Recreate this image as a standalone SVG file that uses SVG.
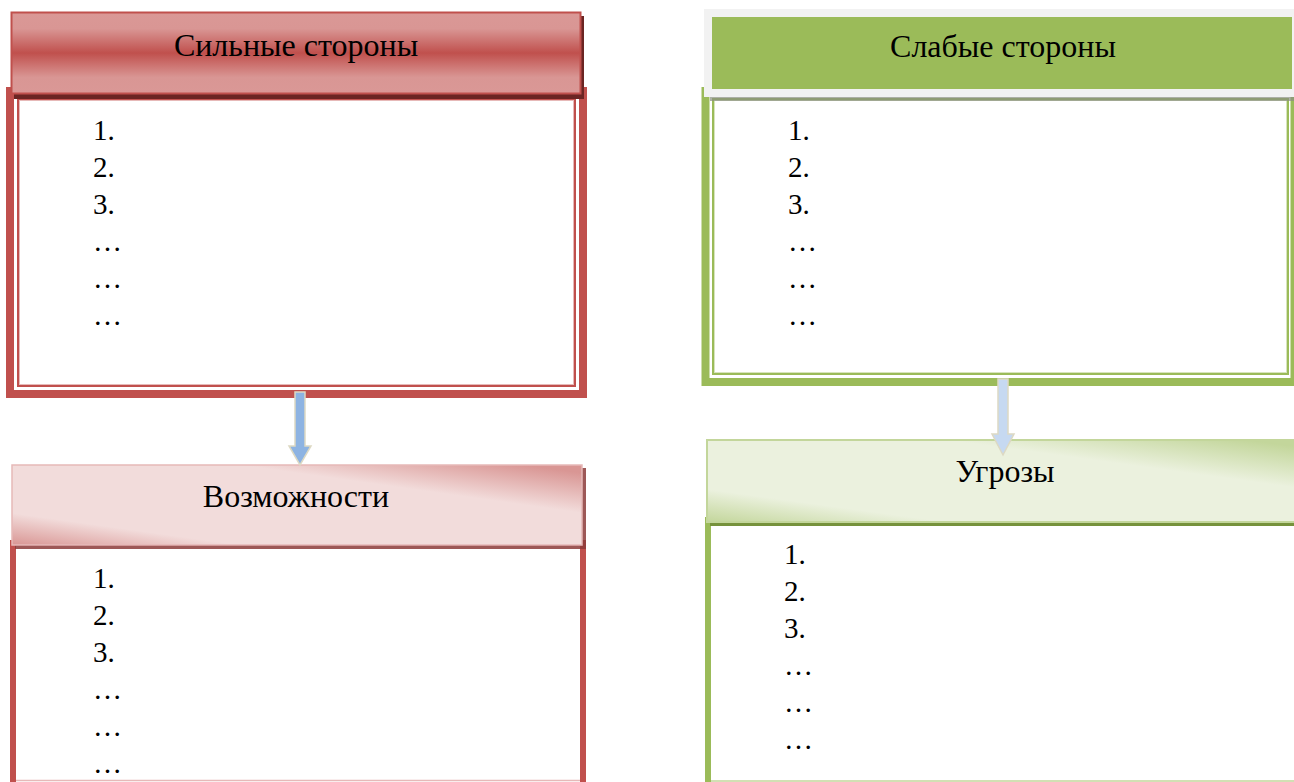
<svg xmlns="http://www.w3.org/2000/svg" width="1294" height="782" viewBox="0 0 1294 782">
<defs>
<style>
.t{font-family:"Liberation Serif","Times New Roman",serif;font-size:29px;fill:#000}
.h{text-anchor:middle;font-size:32px}
.redThick{fill:#fff;stroke:#C0504D;stroke-width:8}
.redThin{fill:none;stroke:#C0504D;stroke-width:2}
.redLight{fill:none;stroke:#E6B9B8;stroke-width:1}
.grnThick{fill:#fff;stroke:#9BBB59;stroke-width:8}
.grnThin{fill:none;stroke:#9BBB59;stroke-width:2}
.grnLight{fill:none;stroke:#D7E4BD;stroke-width:1}
.arrow{stroke:#DDD9C3;stroke-width:1.5}
</style>
<linearGradient id="gRedV" x1="0" y1="0" x2="0" y2="1">
<stop offset="0" stop-color="#DA9896"/>
<stop offset="0.2" stop-color="#D99694"/>
<stop offset="0.5" stop-color="#C0504D"/>
<stop offset="0.8" stop-color="#D99694"/>
<stop offset="1" stop-color="#DA9896"/>
</linearGradient>
<linearGradient id="gRedD" x1="0" y1="1" x2="1" y2="0">
<stop offset="0" stop-color="#D99694"/>
<stop offset="0.2" stop-color="#F2DCDB"/>
<stop offset="0.7" stop-color="#F2DCDB"/>
<stop offset="0.95" stop-color="#D99694"/>
<stop offset="1" stop-color="#D99694"/>
</linearGradient>
<linearGradient id="gGrnD" x1="0" y1="1" x2="1" y2="0">
<stop offset="0" stop-color="#C3D69B"/>
<stop offset="0.2" stop-color="#EBF1DE"/>
<stop offset="0.7" stop-color="#EBF1DE"/>
<stop offset="0.95" stop-color="#C3D69B"/>
<stop offset="1" stop-color="#C3D69B"/>
</linearGradient>
</defs>
<rect width="1294" height="782" fill="#fff"/>

<g id="strengths">
<rect class="redThick" x="10" y="91" width="573" height="303"/>
<rect class="redThin" x="18" y="99" width="557" height="287"/>
<rect class="redLight" x="19.5" y="100.5" width="554" height="284"/>
<rect x="14" y="16" width="570" height="83" fill="#6B2523"/>
<rect x="11.5" y="12.5" width="569" height="81" fill="url(#gRedV)" stroke="#C0504D" stroke-width="2"/>
<text class="t h" x="296" y="56">Сильные стороны</text>
<text class="t" x="93" y="140">1.</text>
<text class="t" x="93" y="177">2.</text>
<text class="t" x="93" y="214">3.</text>
<text class="t" x="93" y="251">…</text>
<text class="t" x="93" y="288">…</text>
<text class="t" x="93" y="325">…</text>
</g>

<g id="weaknesses">
<rect class="grnThick" x="705.5" y="91" width="589" height="291"/>
<rect class="grnThin" x="713" y="99" width="575" height="275"/>
<rect class="grnLight" x="714.5" y="100.5" width="572" height="272"/>
<rect x="710" y="97" width="590" height="4" fill="#8A8F80" opacity="0.7"/>
<rect x="704" y="9" width="600" height="88" fill="#F2F2F2"/>
<rect x="712" y="17" width="580" height="72" fill="#9BBB59"/>
<text class="t h" x="1003" y="57">Слабые стороны</text>
<text class="t" x="788" y="140">1.</text>
<text class="t" x="788" y="177">2.</text>
<text class="t" x="788" y="214">3.</text>
<text class="t" x="788" y="251">…</text>
<text class="t" x="788" y="288">…</text>
<text class="t" x="788" y="325">…</text>
</g>

<g id="opportunities">
<rect x="13" y="543" width="570" height="260" fill="#fff" stroke="#C0504D" stroke-width="6"/>
<line x1="16" y1="780.5" x2="580" y2="780.5" stroke="#E6B9B8" stroke-width="1.5"/>
<rect x="15" y="468" width="571" height="81" fill="#8C3B39" opacity="0.85"/>
<rect x="12" y="465" width="570" height="80" fill="url(#gRedD)" stroke="#E6B9B8" stroke-width="1.5"/>
<text class="t h" x="296" y="507">Возможности</text>
<text class="t" x="93" y="588">1.</text>
<text class="t" x="93" y="625">2.</text>
<text class="t" x="93" y="662">3.</text>
<text class="t" x="93" y="699">…</text>
<text class="t" x="93" y="736">…</text>
<text class="t" x="93" y="773">…</text>
</g>

<g id="threats">
<rect x="708" y="520" width="600" height="290" fill="#fff" stroke="#9BBB59" stroke-width="6"/>
<line x1="711" y1="781" x2="1294" y2="781" stroke="#C3D69B" stroke-width="1.5"/>
<rect x="710" y="443" width="600" height="83" fill="#76923C"/>
<rect x="707" y="440" width="600" height="82" fill="url(#gGrnD)" stroke="#C3D69B" stroke-width="2"/>
<text class="t h" x="1005" y="482">Угрозы</text>
<text class="t" x="784" y="564">1.</text>
<text class="t" x="784" y="601">2.</text>
<text class="t" x="784" y="638">3.</text>
<text class="t" x="784" y="675">…</text>
<text class="t" x="784" y="712">…</text>
<text class="t" x="784" y="749">…</text>
</g>

<g id="connectors">
<path class="arrow" fill="#8DB3E2" d="M295,392 H305 V446 H311 L300,465 L289,446 H295 Z"/>
<path class="arrow" fill="#C6D9F1" d="M998,379 H1008 V434 H1014 L1003,455 L992,434 H998 Z"/>
</g>
</svg>
